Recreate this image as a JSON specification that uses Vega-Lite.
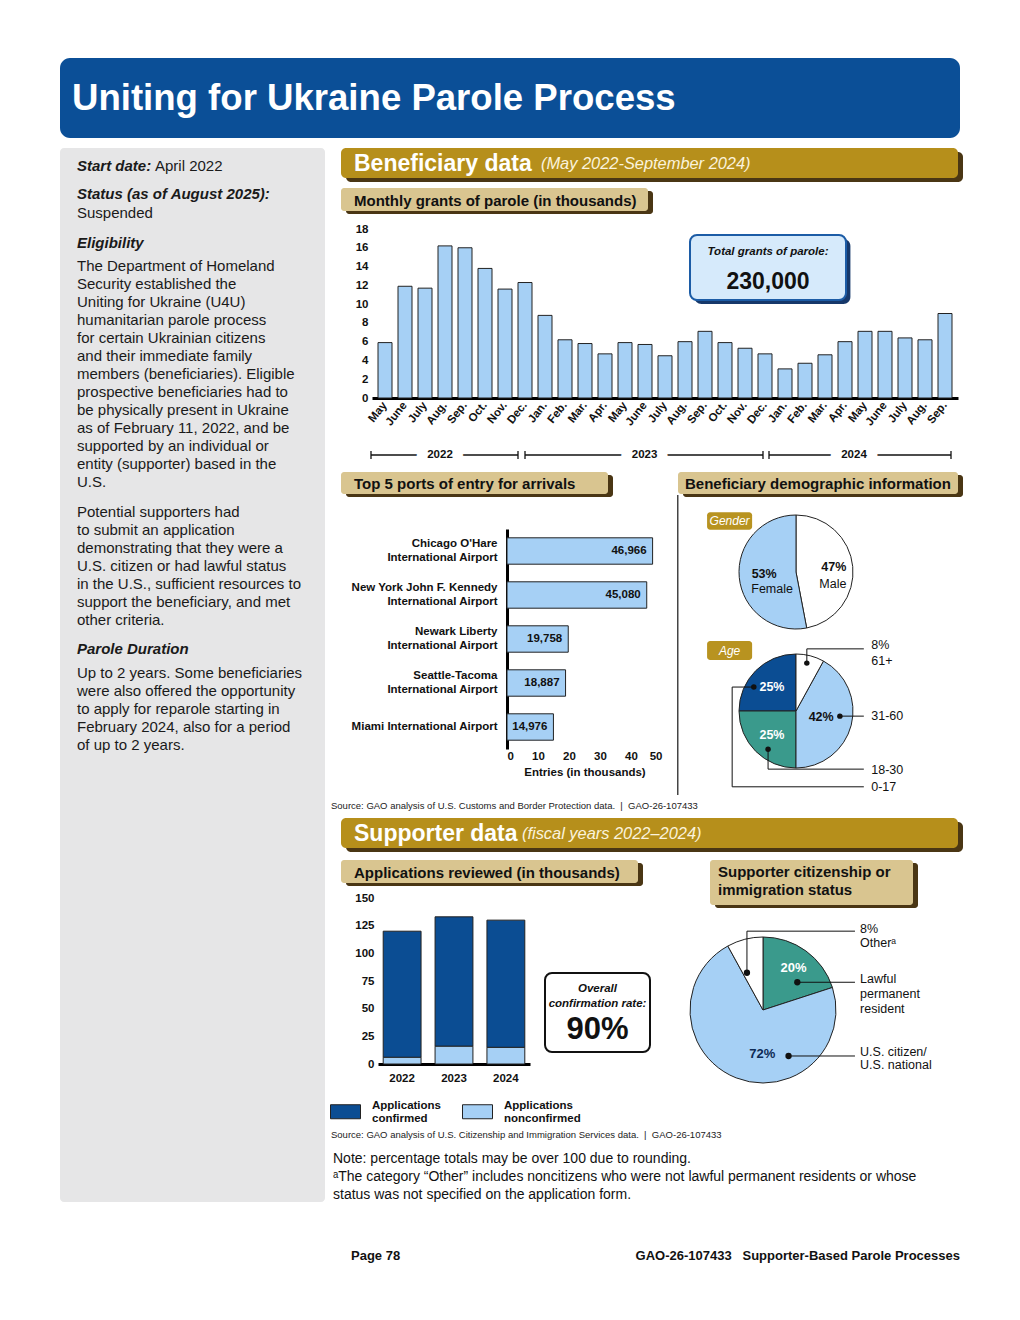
{
"$schema":"https://vega.github.io/schema/vega-lite/v6.json",
"padding":{"left":60,"top":58,"right":10,"bottom":10},
"background":"white",
"config":{"font":"Liberation Sans","view":{"stroke":null},"concat":{"spacing":0},
 "axis":{"labelFont":"Liberation Sans","labelFontWeight":"bold","labelFontSize":11.5,"labelColor":"#111","titleColor":"#111","titleFont":"Liberation Sans","grid":false,"ticks":false,"domain":false,"labelOverlap":false}},
"datasets":{
 "months":[
  {"m":"May 2022","v":5.9},{"m":"June 2022","v":11.9},{"m":"July 2022","v":11.7},{"m":"Aug. 2022","v":16.2},{"m":"Sep. 2022","v":16.0},{"m":"Oct. 2022","v":13.8},{"m":"Nov. 2022","v":11.6},{"m":"Dec. 2022","v":12.3},
  {"m":"Jan. 2023","v":8.8},{"m":"Feb. 2023","v":6.2},{"m":"Mar. 2023","v":5.8},{"m":"Apr. 2023","v":4.7},{"m":"May 2023","v":5.9},{"m":"June 2023","v":5.7},{"m":"July 2023","v":4.5},{"m":"Aug. 2023","v":6.0},{"m":"Sep. 2023","v":7.1},{"m":"Oct. 2023","v":5.9},{"m":"Nov. 2023","v":5.3},{"m":"Dec. 2023","v":4.7},
  {"m":"Jan. 2024","v":3.1},{"m":"Feb. 2024","v":3.7},{"m":"Mar. 2024","v":4.6},{"m":"Apr. 2024","v":6.0},{"m":"May 2024","v":7.1},{"m":"June 2024","v":7.1},{"m":"July 2024","v":6.4},{"m":"Aug. 2024","v":6.2},{"m":"Sep. 2024","v":9.0}],
 "brackets":[{"yr":"2022","a":-0.05,"b":7.3,"mid":3.4},{"yr":"2023","a":7.65,"b":19.55,"mid":13.63},{"yr":"2024","a":19.85,"b":28.95,"mid":24.1}],
 "ports":[
  {"port":"Chicago O'Hare|International Airport","n":46966},
  {"port":"New York John F. Kennedy|International Airport","n":45080},
  {"port":"Newark Liberty|International Airport","n":19758},
  {"port":"Seattle-Tacoma|International Airport","n":18887},
  {"port":"Miami International Airport","n":14976}],
 "gender":[{"sex":"Male","share":0.47},{"sex":"Female","share":0.53}],
 "age":[{"age":"0-17","share":0.25},{"age":"18-30","share":0.25},{"age":"31-60","share":0.42},{"age":"61+","share":0.08}],
 "ageLeaders":[
  {"g":"61+","s":0,"x":0.19,"y":0.84},{"g":"61+","s":1,"x":0.19,"y":1.09},{"g":"61+","s":2,"x":1.19,"y":1.09},
  {"g":"31-60","s":0,"x":0.77,"y":-0.09},{"g":"31-60","s":1,"x":1.19,"y":-0.09},
  {"g":"18-30","s":0,"x":-0.49,"y":-0.67},{"g":"18-30","s":1,"x":-0.49,"y":-1.02},{"g":"18-30","s":2,"x":1.19,"y":-1.02},
  {"g":"0-17","s":0,"x":-0.74,"y":0.42},{"g":"0-17","s":1,"x":-1.12,"y":0.42},{"g":"0-17","s":2,"x":-1.12,"y":-1.33},{"g":"0-17","s":3,"x":1.19,"y":-1.33}],
 "ageLabels":[{"t":"8%","x":1.32,"y":1.16},{"t":"61+","x":1.32,"y":0.88},{"t":"31-60","x":1.32,"y":-0.09},{"t":"18-30","x":1.32,"y":-1.03},{"t":"0-17","x":1.32,"y":-1.33}],
 "apps":[
  {"yr":"2022","st":"Applications confirmed","n":114},{"yr":"2022","st":"Applications nonconfirmed","n":6},
  {"yr":"2023","st":"Applications confirmed","n":117},{"yr":"2023","st":"Applications nonconfirmed","n":16},
  {"yr":"2024","st":"Applications confirmed","n":115},{"yr":"2024","st":"Applications nonconfirmed","n":15}],
 "status":[{"st":"Lawful permanent resident","share":0.20},{"st":"U.S. citizen/U.S. national","share":0.72},{"st":"Other","share":0.08}],
 "stLeaders":[
  {"g":"Other","s":0,"x":-0.22,"y":0.51},{"g":"Other","s":1,"x":-0.22,"y":1.08},{"g":"Other","s":2,"x":1.26,"y":1.08},
  {"g":"LPR","s":0,"x":0.47,"y":0.38},{"g":"LPR","s":1,"x":1.26,"y":0.38},
  {"g":"USC","s":0,"x":0.35,"y":-0.63},{"g":"USC","s":1,"x":1.26,"y":-0.63}],
 "stLabels":[{"t":"8%","x":1.33,"y":1.11},{"t":"Otherᵃ","x":1.33,"y":0.92},{"t":"Lawful","x":1.33,"y":0.42},{"t":"permanent","x":1.33,"y":0.22},{"t":"resident","x":1.33,"y":0.01},{"t":"U.S. citizen/","x":1.33,"y":-0.57},{"t":"U.S. national","x":1.33,"y":-0.76}],
 "sidebar":[
  {"line":1.0,"k":"h","t":"Start date:"},{"line":1.0,"k":"v","t":"April 2022"},
  {"line":2.56,"k":"h","t":"Status (as of August 2025):"},{"line":3.61,"k":"b","t":"Suspended"},
  {"line":5.28,"k":"h","t":"Eligibility"},
  {"line":6.56,"k":"b","t":"The Department of Homeland"},
  {"line":7.56,"k":"b","t":"Security established the"},
  {"line":8.56,"k":"b","t":"Uniting for Ukraine (U4U)"},
  {"line":9.56,"k":"b","t":"humanitarian parole process"},
  {"line":10.56,"k":"b","t":"for certain Ukrainian citizens"},
  {"line":11.56,"k":"b","t":"and their immediate family"},
  {"line":12.56,"k":"b","t":"members (beneficiaries). Eligible"},
  {"line":13.56,"k":"b","t":"prospective beneficiaries had to"},
  {"line":14.56,"k":"b","t":"be physically present in Ukraine"},
  {"line":15.56,"k":"b","t":"as of February 11, 2022, and be"},
  {"line":16.56,"k":"b","t":"supported by an individual or"},
  {"line":17.56,"k":"b","t":"entity (supporter) based in the"},
  {"line":18.56,"k":"b","t":"U.S."},
  {"line":20.22,"k":"b","t":"Potential supporters had"},
  {"line":21.22,"k":"b","t":"to submit an application"},
  {"line":22.22,"k":"b","t":"demonstrating that they were a"},
  {"line":23.22,"k":"b","t":"U.S. citizen or had lawful status"},
  {"line":24.22,"k":"b","t":"in the U.S., sufficient resources to"},
  {"line":25.22,"k":"b","t":"support the beneficiary, and met"},
  {"line":26.22,"k":"b","t":"other criteria."},
  {"line":27.83,"k":"h","t":"Parole Duration"},
  {"line":29.17,"k":"b","t":"Up to 2 years. Some beneficiaries"},
  {"line":30.17,"k":"b","t":"were also offered the opportunity"},
  {"line":31.17,"k":"b","t":"to apply for reparole starting in"},
  {"line":32.17,"k":"b","t":"February 2024, also for a period"},
  {"line":33.17,"k":"b","t":"of up to 2 years."}]
},
"bounds":"flush","spacing":0,
"resolve":{"scale":{"color":"independent","theta":"independent"},"legend":{"color":"independent"}},
"vconcat":[
 {"width":900,"height":80,"view":{"fill":"#0b4f97","cornerRadius":10},"data":{"values":[{}]},
  "mark":{"type":"text","text":"Uniting for Ukraine Parole Process","align":"left","baseline":"middle","dx":-438,"dy":1,"fontSize":36.6,"fontWeight":"bold","color":"white"}},
 {"width":1,"height":10,"data":{"values":[]},"mark":"point"},
 {"bounds":"flush","spacing":0,
  "resolve":{"scale":{"color":"independent","theta":"independent"},"legend":{"color":"independent"}},
  "hconcat":[
  {"width":265,"height":1054,"view":{"fill":"#e6e6e7","cornerRadius":4},"data":{"name":"sidebar"},
   "encoding":{"y":{"field":"line","type":"quantitative","scale":{"domain":[0,58.56],"reverse":true,"nice":false,"zero":false},"axis":null},"text":{"field":"t"}},
   "layer":[
    {"transform":[{"filter":"datum.k=='h'"}],"mark":{"type":"text","align":"left","baseline":"middle","dx":-115.5,"fontSize":15,"fontWeight":"bold","fontStyle":"italic","color":"#1a1a1a"}},
    {"transform":[{"filter":"datum.k=='b'"}],"mark":{"type":"text","align":"left","baseline":"middle","dx":-115.5,"fontSize":15,"color":"#1a1a1a"}},
    {"transform":[{"filter":"datum.k=='v'"}],"mark":{"type":"text","align":"left","baseline":"middle","dx":-37.5,"fontSize":15,"color":"#1a1a1a"}}
   ]},
  {"width":16,"height":1,"data":{"values":[]},"mark":"point"},
  {"bounds":"flush","spacing":0,
   "resolve":{"scale":{"color":"independent","theta":"independent"},"legend":{"color":"independent"}},
   "vconcat":[
   {"bounds":"flush","spacing":0,"vconcat":[{"width":1,"height":4,"data":{"values":[]},"mark":"point"},{"bounds":"flush","spacing":0,"hconcat":[{"width":5,"height":1,"data":{"values":[]},"mark":"point"},{"width":617,"height":30,"view":{"fill":"#4a3614","cornerRadius":5},"data":{"values":[]},"mark":"point"}]}]},
   {"width":617,"height":30,"view":{"fill":"#b68f1b","cornerRadius":5},"data":{"values":[{}]},"layer":[
    {"mark":{"type":"text","text":"Beneficiary data","align":"left","baseline":"middle","dx":-295.5,"dy":1,"fontSize":23,"fontWeight":"bold","color":"white"}},
    {"mark":{"type":"text","text":"(May 2022-September 2024)","align":"left","baseline":"middle","dx":-108.5,"dy":1,"fontSize":16.4,"fontStyle":"italic","color":"#fbf3dc"}}]},
   {"width":1,"height":10,"data":{"values":[]},"mark":"point"},
   {"bounds":"flush","spacing":0,"vconcat":[{"width":1,"height":3,"data":{"values":[]},"mark":"point"},{"bounds":"flush","spacing":0,"hconcat":[{"width":5,"height":1,"data":{"values":[]},"mark":"point"},{"width":307,"height":23,"view":{"fill":"#4a3614","cornerRadius":3},"data":{"values":[]},"mark":"point"}]}]},
   {"width":307,"height":23,"view":{"fill":"#d9c590","cornerRadius":3},"data":{"values":[{}]},
    "mark":{"type":"text","text":"Monthly grants of parole (in thousands)","align":"left","baseline":"middle","dx":-140.5,"dy":1,"fontSize":15,"fontWeight":"bold","color":"#111"}},
   {"width":1,"height":18,"data":{"values":[]},"mark":"point"},
   {"bounds":"flush","spacing":0,"hconcat":[
    {"width":31,"height":1,"data":{"values":[]},"mark":"point"},
    {"width":586,"height":169,
     "layer":[
      {"data":{"name":"months"},"mark":{"type":"bar","fill":"#a6d0f5","stroke":"#222","strokeWidth":1},
       "encoding":{
        "x":{"field":"m","type":"nominal","sort":null,"scale":{"paddingInner":0.3,"paddingOuter":0.3},
             "axis":{"title":null,"labelAngle":-52,"labelExpr":"split(datum.label,' ')[0]","domain":true,"domainColor":"#000","domainWidth":3,"labelPadding":5,"labelAlign":"right","labelBaseline":"middle"}},
        "y":{"field":"v","type":"quantitative","scale":{"domain":[0,18],"nice":false},"axis":{"title":null,"values":[0,2,4,6,8,10,12,14,16,18],"labelPadding":4}}}},
      {"layer":[
       {"data":{"values":[{"a":"Total grants of parole:","b":"230,000"}]},
        "layer":[
         {"mark":{"type":"rect","fill":"#16386a","cornerRadius":7},
          "encoding":{"x":{"datum":16.12,"type":"quantitative","scale":{"domain":[0,29.3],"nice":false,"zero":false},"axis":null},"x2":{"datum":23.92},
                      "y":{"datum":16.93,"type":"quantitative","scale":{"domain":[0,18],"nice":false},"axis":null},"y2":{"datum":10.0}}},
         {"mark":{"type":"rect","fill":"#d6eafb","stroke":"#1c5ca6","strokeWidth":2,"cornerRadius":7},
          "encoding":{"x":{"datum":15.9,"type":"quantitative","scale":{"domain":[0,29.3],"nice":false,"zero":false},"axis":null},"x2":{"datum":23.7},
                      "y":{"datum":17.36,"type":"quantitative","scale":{"domain":[0,18],"nice":false},"axis":null},"y2":{"datum":10.44}}},
         {"mark":{"type":"text","fontStyle":"italic","fontWeight":"bold","fontSize":11.5,"color":"#111"},
          "encoding":{"text":{"field":"a"},"x":{"datum":19.8,"type":"quantitative","scale":{"domain":[0,29.3],"nice":false,"zero":false},"axis":null},
                      "y":{"datum":15.55,"type":"quantitative","scale":{"domain":[0,18],"nice":false},"axis":null}}},
         {"mark":{"type":"text","fontWeight":"bold","fontSize":23,"color":"#111"},
          "encoding":{"text":{"field":"b"},"x":{"datum":19.8,"type":"quantitative","scale":{"domain":[0,29.3],"nice":false,"zero":false},"axis":null},
                      "y":{"datum":12.4,"type":"quantitative","scale":{"domain":[0,18],"nice":false},"axis":null}}}
        ]},
       {"data":{"name":"brackets"},
        "layer":[
         {"mark":{"type":"rule","color":"#111","strokeWidth":1.3},
          "encoding":{"x":{"field":"a","type":"quantitative","scale":{"domain":[0,29.3],"nice":false,"zero":false},"axis":null},"x2":{"field":"b"},
                      "y":{"datum":-6.07,"type":"quantitative","scale":{"domain":[0,18],"nice":false},"axis":null}}},
         {"mark":{"type":"rule","color":"#111","strokeWidth":1.3},
          "encoding":{"x":{"field":"a","type":"quantitative","scale":{"domain":[0,29.3],"nice":false,"zero":false},"axis":null},
                      "y":{"datum":-5.65,"type":"quantitative","scale":{"domain":[0,18],"nice":false},"axis":null},"y2":{"datum":-6.5}}},
         {"mark":{"type":"rule","color":"#111","strokeWidth":1.3},
          "encoding":{"x":{"field":"b","type":"quantitative","scale":{"domain":[0,29.3],"nice":false,"zero":false},"axis":null},
                      "y":{"datum":-5.65,"type":"quantitative","scale":{"domain":[0,18],"nice":false},"axis":null},"y2":{"datum":-6.5}}},
         {"mark":{"type":"text","fontWeight":"bold","fontSize":11.5,"color":"white","stroke":"white","strokeWidth":21},
          "encoding":{"text":{"field":"yr"},"x":{"field":"mid","type":"quantitative","scale":{"domain":[0,29.3],"nice":false,"zero":false},"axis":null},
                      "y":{"datum":-6.07,"type":"quantitative","scale":{"domain":[0,18],"nice":false},"axis":null}}},
         {"mark":{"type":"text","fontWeight":"bold","fontSize":11.5,"color":"#111"},
          "encoding":{"text":{"field":"yr"},"x":{"field":"mid","type":"quantitative","scale":{"domain":[0,29.3],"nice":false,"zero":false},"axis":null},
                      "y":{"datum":-6.07,"type":"quantitative","scale":{"domain":[0,18],"nice":false},"axis":null}}}
        ]}
      ]}
     ],
     "resolve":{"scale":{"x":"independent"},"axis":{"x":"independent","y":"independent"}}}
   ]},
   {"width":1,"height":243,"data":{"values":[]},"mark":"point"},
   {"bounds":"flush","spacing":0,"hconcat":[
    {"bounds":"flush","spacing":0,"vconcat":[{"width":1,"height":3,"data":{"values":[]},"mark":"point"},{"bounds":"flush","spacing":0,"hconcat":[{"width":5,"height":1,"data":{"values":[]},"mark":"point"},{"width":267,"height":22,"view":{"fill":"#4a3614","cornerRadius":3},"data":{"values":[]},"mark":"point"}]}]},
    {"width":267,"height":22,"view":{"fill":"#d9c590","cornerRadius":3},"data":{"values":[{}]},
     "mark":{"type":"text","text":"Top 5 ports of entry for arrivals","align":"left","baseline":"middle","dx":-120.5,"dy":1,"fontSize":15,"fontWeight":"bold","color":"#111"}},
    {"width":70,"height":1,"data":{"values":[]},"mark":"point"},
    {"bounds":"flush","spacing":0,"vconcat":[{"width":1,"height":3,"data":{"values":[]},"mark":"point"},{"bounds":"flush","spacing":0,"hconcat":[{"width":5,"height":1,"data":{"values":[]},"mark":"point"},{"width":280,"height":22,"view":{"fill":"#4a3614","cornerRadius":3},"data":{"values":[]},"mark":"point"}]}]},
    {"width":280,"height":22,"view":{"fill":"#d9c590","cornerRadius":3},"data":{"values":[{}]},
     "mark":{"type":"text","text":"Beneficiary demographic information","align":"left","baseline":"middle","dx":-133,"dy":1,"fontSize":15,"fontWeight":"bold","color":"#111"}}
   ]},
   {"width":1,"height":22,"data":{"values":[]},"mark":"point"},
   {"bounds":"flush","spacing":0,
    "resolve":{"scale":{"color":"independent","theta":"independent"},"legend":{"color":"independent"}},
    "hconcat":[
    {"width":166,"height":1,"data":{"values":[]},"mark":"point"},
    {"bounds":"flush","spacing":0,"vconcat":[
     {"width":1,"height":34.5,"data":{"values":[]},"mark":"point"},
     {"width":155,"height":220,"data":{"name":"ports"},
      "encoding":{
       "y":{"field":"port","type":"nominal","sort":null,"scale":{"paddingInner":0.4,"paddingOuter":0.2},
            "axis":{"title":null,"domain":true,"domainColor":"#000","domainWidth":3,"labelExpr":"split(datum.label,'|')","labelLineHeight":14,"labelPadding":10,
                    "labelOffset":{"condition":{"test":"indexof(datum.value,'|') >= 0","value":-7},"value":0}}},
       "x":{"field":"n","type":"quantitative","scale":{"domain":[0,50000],"nice":false},
            "axis":{"values":[0,10000,20000,30000,40000,50000],"labelExpr":"datum.value/1000","title":"Entries (in thousands)","titleFontSize":11.5,"titleFontWeight":"bold","titlePadding":5,"labelPadding":1}}},
      "layer":[
       {"mark":{"type":"bar","fill":"#a6d0f5","stroke":"#222","strokeWidth":1}},
       {"mark":{"type":"text","align":"right","dx":-6,"fontWeight":"bold","fontSize":11.5,"color":"#111"},"encoding":{"text":{"field":"n","format":","}}}
      ]}
    ]},
    {"width":169.5,"height":1,"data":{"values":[]},"mark":"point"},
    {"bounds":"flush","spacing":0,"vconcat":[
     {"width":1,"height":1,"data":{"values":[]},"mark":"point"},
     {"width":1.5,"height":300,"view":{"fill":"#444"},"data":{"values":[]},"mark":"point"}
    ]},
    {"width":61.5,"height":1,"data":{"values":[]},"mark":"point"},
    {"bounds":"flush","spacing":0,
     "resolve":{"scale":{"color":"independent","theta":"independent"},"legend":{"color":"independent"}},
     "vconcat":[
     {"width":1,"height":21,"data":{"values":[]},"mark":"point"},
     {"width":114,"height":114,
      "layer":[
       {"data":{"name":"gender"},
        "encoding":{"theta":{"field":"share","type":"quantitative","stack":true},"order":{"field":"sex","type":"ordinal","sort":"descending"}},
        "layer":[
         {"mark":{"type":"arc","outerRadius":57,"stroke":"#222","strokeWidth":1},
          "encoding":{"color":{"field":"sex","type":"nominal","scale":{"domain":["Male","Female"],"range":["#ffffff","#a6d0f5"]},"legend":null}}},
         {"mark":{"type":"text","radius":32,"dy":-1,"fontWeight":"bold","fontSize":12.5,"color":"#111"},
          "encoding":{"text":{"condition":{"test":"datum.sex!='Female'","value":""},"field":"share","format":".0%"}}},
         {"mark":{"type":"text","radius":24,"dy":15,"fontSize":12.5,"color":"#111"},
          "encoding":{"text":{"condition":{"test":"datum.sex!='Female'","value":""},"field":"sex"}}},
         {"mark":{"type":"text","radius":38,"dy":-1,"fontWeight":"bold","fontSize":12.5,"color":"#111"},
          "encoding":{"text":{"condition":{"test":"datum.sex!='Male'","value":""},"field":"share","format":".0%"}}},
         {"mark":{"type":"text","radius":37,"dy":15,"fontSize":12.5,"color":"#111"},
          "encoding":{"text":{"condition":{"test":"datum.sex!='Male'","value":""},"field":"sex"}}}
        ]},
       {"data":{"values":[{"tag":"Gender"}]},
        "layer":[
         {"mark":{"type":"rect","fill":"#b89320","cornerRadius":3},
          "encoding":{"x":{"datum":-1.56,"type":"quantitative","scale":{"domain":[-1,1],"nice":false,"zero":false},"axis":null},"x2":{"datum":-0.77},
                      "y":{"datum":1.05,"type":"quantitative","scale":{"domain":[-1,1],"nice":false,"zero":false},"axis":null},"y2":{"datum":0.74}}},
         {"mark":{"type":"text","fontStyle":"italic","fontSize":12,"color":"white"},
          "encoding":{"text":{"field":"tag"},"x":{"datum":-1.165,"type":"quantitative","scale":{"domain":[-1,1],"nice":false,"zero":false},"axis":null},
                      "y":{"datum":0.895,"type":"quantitative","scale":{"domain":[-1,1],"nice":false,"zero":false},"axis":null}}}
        ]}
      ]},
     {"width":1,"height":25,"data":{"values":[]},"mark":"point"},
     {"width":114,"height":114,
      "layer":[
       {"data":{"name":"age"},
        "encoding":{"theta":{"field":"share","type":"quantitative","stack":true},"order":{"field":"age","type":"ordinal","sort":"descending"}},
        "layer":[
         {"mark":{"type":"arc","outerRadius":57,"stroke":"#222","strokeWidth":1},
          "encoding":{"color":{"field":"age","type":"nominal","scale":{"domain":["61+","31-60","18-30","0-17"],"range":["#ffffff","#a6d0f5","#3a9a8c","#0b4d93"]},"legend":null}}},
         {"mark":{"type":"text","radius":26,"fontWeight":"bold","fontSize":12.5,"color":"#111"},
          "encoding":{"text":{"condition":{"test":"datum.age!='31-60'","value":""},"field":"share","format":".0%"}}},
         {"mark":{"type":"text","radius":34,"fontWeight":"bold","fontSize":12.5,"color":"white"},
          "encoding":{"text":{"condition":{"test":"datum.age=='31-60' || datum.age=='61+'","value":""},"field":"share","format":".0%"}}}
        ]},
       {"data":{"values":[{"tag":"Age"}]},
        "layer":[
         {"mark":{"type":"rect","fill":"#b89320","cornerRadius":3},
          "encoding":{"x":{"datum":-1.56,"type":"quantitative","scale":{"domain":[-1,1],"nice":false,"zero":false},"axis":null},"x2":{"datum":-0.77},
                      "y":{"datum":1.228,"type":"quantitative","scale":{"domain":[-1,1],"nice":false,"zero":false},"axis":null},"y2":{"datum":0.895}}},
         {"mark":{"type":"text","fontStyle":"italic","fontSize":12,"color":"white"},
          "encoding":{"text":{"field":"tag"},"x":{"datum":-1.165,"type":"quantitative","scale":{"domain":[-1,1],"nice":false,"zero":false},"axis":null},
                      "y":{"datum":1.06,"type":"quantitative","scale":{"domain":[-1,1],"nice":false,"zero":false},"axis":null}}}
        ]},
       {"data":{"name":"ageLeaders"},
        "layer":[
         {"mark":{"type":"line","color":"#111","strokeWidth":1},
          "encoding":{"x":{"field":"x","type":"quantitative","scale":{"domain":[-1,1],"nice":false,"zero":false},"axis":null},
                      "y":{"field":"y","type":"quantitative","scale":{"domain":[-1,1],"nice":false,"zero":false},"axis":null},
                      "detail":{"field":"g"},"order":{"field":"s"}}},
         {"transform":[{"filter":"datum.s==0"}],"mark":{"type":"point","filled":true,"color":"#111","size":30,"opacity":1},
          "encoding":{"x":{"field":"x","type":"quantitative","scale":{"domain":[-1,1],"nice":false,"zero":false},"axis":null},
                      "y":{"field":"y","type":"quantitative","scale":{"domain":[-1,1],"nice":false,"zero":false},"axis":null}}}
        ]},
       {"data":{"name":"ageLabels"},"mark":{"type":"text","align":"left","baseline":"middle","fontSize":12.5,"color":"#111"},
        "encoding":{"text":{"field":"t"},"x":{"field":"x","type":"quantitative","scale":{"domain":[-1,1],"nice":false,"zero":false},"axis":null},
                    "y":{"field":"y","type":"quantitative","scale":{"domain":[-1,1],"nice":false,"zero":false},"axis":null}}}
      ]}
    ]}
   ]},
   {"width":1,"height":306,"data":{"values":[]},"mark":"point"},
   {"width":1,"height":12,"data":{"values":[{}]},
    "mark":{"type":"text","text":"Source: GAO analysis of U.S. Customs and Border Protection data.\u00a0\u00a0|\u00a0\u00a0GAO-26-107433","align":"left","baseline":"middle","dx":-10.5,"fontSize":9.5,"color":"#222"}},
   {"width":1,"height":6,"data":{"values":[]},"mark":"point"},
   {"bounds":"flush","spacing":0,"vconcat":[{"width":1,"height":4,"data":{"values":[]},"mark":"point"},{"bounds":"flush","spacing":0,"hconcat":[{"width":5,"height":1,"data":{"values":[]},"mark":"point"},{"width":617,"height":30,"view":{"fill":"#4a3614","cornerRadius":5},"data":{"values":[]},"mark":"point"}]}]},
   {"width":617,"height":30,"view":{"fill":"#b68f1b","cornerRadius":5},"data":{"values":[{}]},"layer":[
    {"mark":{"type":"text","text":"Supporter data","align":"left","baseline":"middle","dx":-295.5,"dy":1,"fontSize":23,"fontWeight":"bold","color":"white"}},
    {"mark":{"type":"text","text":"(fiscal years 2022–2024)","align":"left","baseline":"middle","dx":-127.5,"dy":1,"fontSize":16.4,"fontStyle":"italic","color":"#fbf3dc"}}]},
   {"width":1,"height":12,"data":{"values":[]},"mark":"point"},
   {"bounds":"flush","spacing":0,
    "resolve":{"scale":{"color":"independent","theta":"independent"},"legend":{"color":"independent"}},
    "hconcat":[
    {"bounds":"flush","spacing":0,"vconcat":[
     {"bounds":"flush","spacing":0,"vconcat":[{"width":1,"height":3,"data":{"values":[]},"mark":"point"},{"bounds":"flush","spacing":0,"hconcat":[{"width":5,"height":1,"data":{"values":[]},"mark":"point"},{"width":297,"height":23,"view":{"fill":"#4a3614","cornerRadius":3},"data":{"values":[]},"mark":"point"}]}]},
     {"width":297,"height":23,"view":{"fill":"#d9c590","cornerRadius":3},"data":{"values":[{}]},
      "mark":{"type":"text","text":"Applications reviewed (in thousands)","align":"left","baseline":"middle","dx":-135.5,"dy":1,"fontSize":15,"fontWeight":"bold","color":"#111"}},
     {"width":1,"height":15,"data":{"values":[]},"mark":"point"},
     {"bounds":"flush","spacing":0,"hconcat":[
      {"width":37,"height":1,"data":{"values":[]},"mark":"point"},
      {"width":152,"height":166,"data":{"name":"apps"},"mark":{"type":"bar","stroke":"#222","strokeWidth":1},
       "encoding":{
        "x":{"field":"yr","type":"nominal","scale":{"paddingInner":0.27,"paddingOuter":0.1},"axis":{"title":null,"labelAngle":0,"domain":true,"domainColor":"#000","domainWidth":3,"labelPadding":8}},
        "y":{"field":"n","type":"quantitative","stack":true,"scale":{"domain":[0,150],"nice":false},"axis":{"title":null,"values":[0,25,50,75,100,125,150],"labelPadding":4}},
        "color":{"field":"st","type":"nominal","scale":{"domain":["Applications confirmed","Applications nonconfirmed"],"range":["#0b4d93","#a6d0f5"]},
                 "legend":{"orient":"none","legendX":-11,"legendY":236,"direction":"horizontal","title":null,"symbolType":"M-1,-0.467H1V0.467H-1Z","symbolSize":900,"symbolStrokeColor":"#222","symbolStrokeWidth":1,"symbolOpacity":1,"labelFontSize":11.5,"labelFontWeight":"bold","labelColor":"#111","labelExpr":"split(datum.label,' ')","labelBaseline":"line-bottom","labelOffset":11,"columnPadding":18,"padding":0}},
        "order":{"field":"st","type":"ordinal","sort":"descending"}}},
      {"width":15,"height":1,"data":{"values":[]},"mark":"point"},
      {"bounds":"flush","spacing":0,"vconcat":[
       {"width":1,"height":75,"data":{"values":[]},"mark":"point"},
       {"width":105,"height":79,"view":{"fill":"white","stroke":"#111","strokeWidth":2,"cornerRadius":7},"data":{"values":[{}]},"layer":[
        {"mark":{"type":"text","text":"Overall","dy":-24,"fontSize":11.5,"fontWeight":"bold","fontStyle":"italic","color":"#111"}},
        {"mark":{"type":"text","text":"confirmation rate:","dy":-9,"fontSize":11.5,"fontWeight":"bold","fontStyle":"italic","color":"#111"}},
        {"mark":{"type":"text","text":"90%","dy":17,"fontSize":31,"fontWeight":"bold","color":"#111"}}]}
      ]}
     ]}
    ]},
    {"width":349,"height":1,"data":{"values":[]},"mark":"point"},
    {"bounds":"flush","spacing":0,"vconcat":[
     {"bounds":"flush","spacing":0,"hconcat":[
      {"width":20,"height":1,"data":{"values":[]},"mark":"point"},
      {"bounds":"flush","spacing":0,"vconcat":[{"width":1,"height":3,"data":{"values":[]},"mark":"point"},{"bounds":"flush","spacing":0,"hconcat":[{"width":5,"height":1,"data":{"values":[]},"mark":"point"},{"width":203,"height":45,"view":{"fill":"#4a3614","cornerRadius":3},"data":{"values":[]},"mark":"point"}]}]},
      {"width":203,"height":45,"view":{"fill":"#d9c590","cornerRadius":3},"data":{"values":[{}]},
       "mark":{"type":"text","text":["Supporter citizenship or","immigration status"],"align":"left","baseline":"middle","dx":-93.5,"dy":-10.5,"lineHeight":18,"fontSize":15,"fontWeight":"bold","color":"#111"}}
     ]},
     {"width":1,"height":77,"data":{"values":[]},"mark":"point"},
     {"width":146,"height":146,
      "layer":[
       {"data":{"name":"status"},
        "encoding":{"theta":{"field":"share","type":"quantitative","stack":true,"scale":{"range":[1.25664,7.53982]}},"order":{"field":"st","type":"ordinal","sort":"descending"}},
        "layer":[
         {"mark":{"type":"arc","outerRadius":73,"stroke":"#222","strokeWidth":1},
          "encoding":{"color":{"field":"st","type":"nominal","scale":{"domain":["Lawful permanent resident","U.S. citizen/U.S. national","Other"],"range":["#3a9a8c","#a6d0f5","#ffffff"]},"legend":null}}},
         {"mark":{"type":"text","radius":52,"fontWeight":"bold","fontSize":13,"color":"white"},
          "encoding":{"text":{"condition":{"test":"datum.st!='Lawful permanent resident'","value":""},"field":"share","format":".0%"}}},
         {"mark":{"type":"text","radius":44,"thetaOffset":-0.36,"fontWeight":"bold","fontSize":13,"color":"#0d2b55"},
          "encoding":{"text":{"condition":{"test":"datum.st!='U.S. citizen/U.S. national'","value":""},"field":"share","format":".0%"}}}
        ]},
       {"data":{"name":"stLeaders"},
        "layer":[
         {"mark":{"type":"line","color":"#111","strokeWidth":1},
          "encoding":{"x":{"field":"x","type":"quantitative","scale":{"domain":[-1,1],"nice":false,"zero":false},"axis":null},
                      "y":{"field":"y","type":"quantitative","scale":{"domain":[-1,1],"nice":false,"zero":false},"axis":null},
                      "detail":{"field":"g"},"order":{"field":"s"}}},
         {"transform":[{"filter":"datum.s==0"}],"mark":{"type":"point","filled":true,"color":"#111","size":40,"opacity":1},
          "encoding":{"x":{"field":"x","type":"quantitative","scale":{"domain":[-1,1],"nice":false,"zero":false},"axis":null},
                      "y":{"field":"y","type":"quantitative","scale":{"domain":[-1,1],"nice":false,"zero":false},"axis":null}}}
        ]},
       {"data":{"name":"stLabels"},"mark":{"type":"text","align":"left","baseline":"middle","fontSize":12.5,"color":"#111"},
        "encoding":{"text":{"field":"t"},"x":{"field":"x","type":"quantitative","scale":{"domain":[-1,1],"nice":false,"zero":false},"axis":null},
                    "y":{"field":"y","type":"quantitative","scale":{"domain":[-1,1],"nice":false,"zero":false},"axis":null}}}
      ]}
    ]}
   ]},
   {"width":1,"height":269,"data":{"values":[]},"mark":"point"},
   {"width":1,"height":12,"data":{"values":[{}]},
    "mark":{"type":"text","text":"Source: GAO analysis of U.S. Citizenship and Immigration Services data.\u00a0\u00a0|\u00a0\u00a0GAO-26-107433","align":"left","baseline":"middle","dx":-10.5,"fontSize":9.5,"color":"#222"}},
   {"width":1,"height":9,"data":{"values":[]},"mark":"point"},
   {"width":1,"height":54,"data":{"values":[{}]},
    "mark":{"type":"text","text":["Note: percentage totals may be over 100 due to rounding.","ᵃThe category “Other” includes noncitizens who were not lawful permanent residents or whose","status was not specified on the application form."],"align":"left","baseline":"middle","dx":-8.5,"dy":-18,"lineHeight":18,"fontSize":14,"color":"#111"}}
  ]}
 ]},
 {"width":1,"height":1101,"data":{"values":[]},"mark":"point"},
 {"width":900,"height":14,"data":{"values":[{}]},"layer":[
  {"mark":{"type":"text","text":"Page 78","align":"left","baseline":"middle","dx":-159,"fontSize":13,"fontWeight":"bold","color":"#111"}},
  {"mark":{"type":"text","text":"GAO-26-107433\u00a0\u00a0\u00a0Supporter-Based Parole Processes","align":"right","baseline":"middle","dx":450,"fontSize":13,"fontWeight":"bold","color":"#111"}}]}
]
}
